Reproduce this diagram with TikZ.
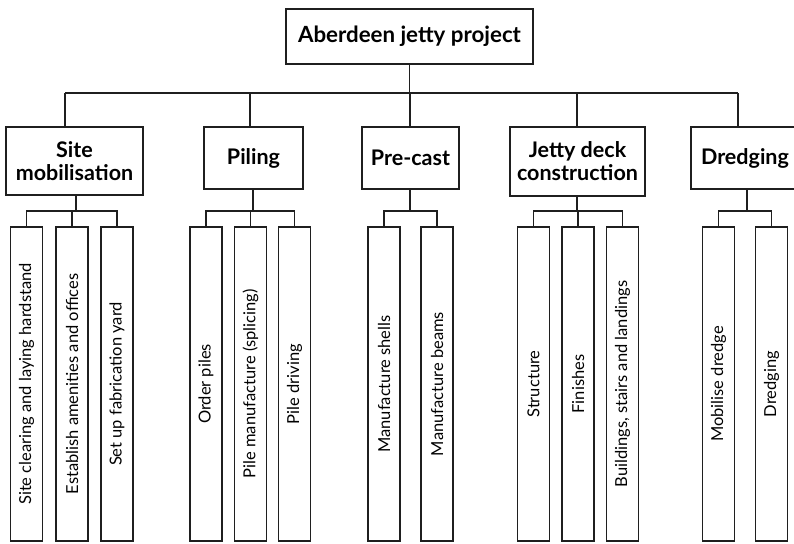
\documentclass[tikz,border=0pt]{standalone}
\usepackage{fontspec}
\setmainfont{Lato}
\begin{document}
\begin{tikzpicture}[x=1pt,y=-1pt, line width=1.3pt,
  topbox/.style={draw=black!88, rectangle, inner sep=0pt, font=\bfseries\fontsize{22.3}{24}\selectfont, align=center},
  groupbox/.style={draw=black!88, rectangle, inner sep=0pt, font=\bfseries\fontsize{21.5}{23}\selectfont, align=center},
  leafbox/.style={draw=black!88, rectangle, inner sep=0pt, minimum width=32pt, minimum height=314pt},
  leaftext/.style={rotate=90, font=\fontsize{16.5}{18}\selectfont},
  link/.style={draw=black!88, line width=1.3pt}
]
\useasboundingbox (0,0) rectangle (794,543);
\clip (0,0) rectangle (794,543);

% root
\node[topbox, minimum width=247pt, minimum height=55pt] (root) at (409.5,36.5) {Aberdeen jetty project};

% second level
\node[groupbox, minimum width=137pt, minimum height=68pt] (sm) at (74.5,161) {Site\\mobilisation};
\node[groupbox, minimum width=99pt, minimum height=62pt] (pil) at (253.5,158) {Piling};
\node[groupbox, minimum width=97pt, minimum height=62pt] (pre) at (410.5,158) {Pre-cast};
\node[groupbox, minimum width=135pt, minimum height=69pt] (jdc) at (577.5,161.5) {Jetty deck\\construction};
\node[groupbox, minimum width=108pt, minimum height=62pt] (dre) at (745,158) {Dredging};

% bus from the root to the five groups
\coordinate (busL) at (65,93);
\coordinate (busR) at (738,93);
\draw[link] (root.south) -- (root.south |- busL);
\draw[link] (busL) -- (busR);
\draw[link] (busL) -- (busL |- sm.north);
\draw[link] (pil.north -| 250,0) -- (250,93);
\draw[link] (pre.north -| 410,0) -- (410,93);
\draw[link] (jdc.north -| 577,0) -- (577,93);
\draw[link] (busR) -- (busR |- dre.north);

% leaves
\foreach \n/\x/\t in {
  sm1/26.5/Site clearing and laying hardstand,
  sm2/72/Establish amenities and offices,
  sm3/117/Set up fabrication yard,
  pil1/206/Order piles,
  pil2/250.5/Pile manufacture (splicing),
  pil3/294.5/Pile driving,
  pre1/384/Manufacture shells,
  pre2/437/Manufacture beams,
  jdc1/533.5/Structure,
  jdc2/578/Finishes,
  jdc3/622.5/{Buildings, stairs and landings},
  dre1/718.5/Mobilise dredge,
  dre2/771.5/Dredging}
{
  \node[leafbox] (\n) at (\x,384) {};
  \node[leaftext] at (\n.center) {\t};
}

% group-to-leaf connectors
\foreach \g/\sx/\a/\b in {sm/76/sm1/sm3, pil/253/pil1/pil3, pre/410/pre1/pre2, jdc/577/jdc1/jdc3, dre/747/dre1/dre2}
{
  \draw[link] (\g.south -| \sx,0) -- (\sx,211);
  \draw[link] (\a.north) |- (\b.north |- 0,211) -- (\b.north);
}
\draw[link] (sm2.north) -- (sm2.north |- 0,211);
\draw[link] (pil2.north) -- (pil2.north |- 0,211);
\draw[link] (jdc2.north) -- (jdc2.north |- 0,211);
\end{tikzpicture}
\end{document}
